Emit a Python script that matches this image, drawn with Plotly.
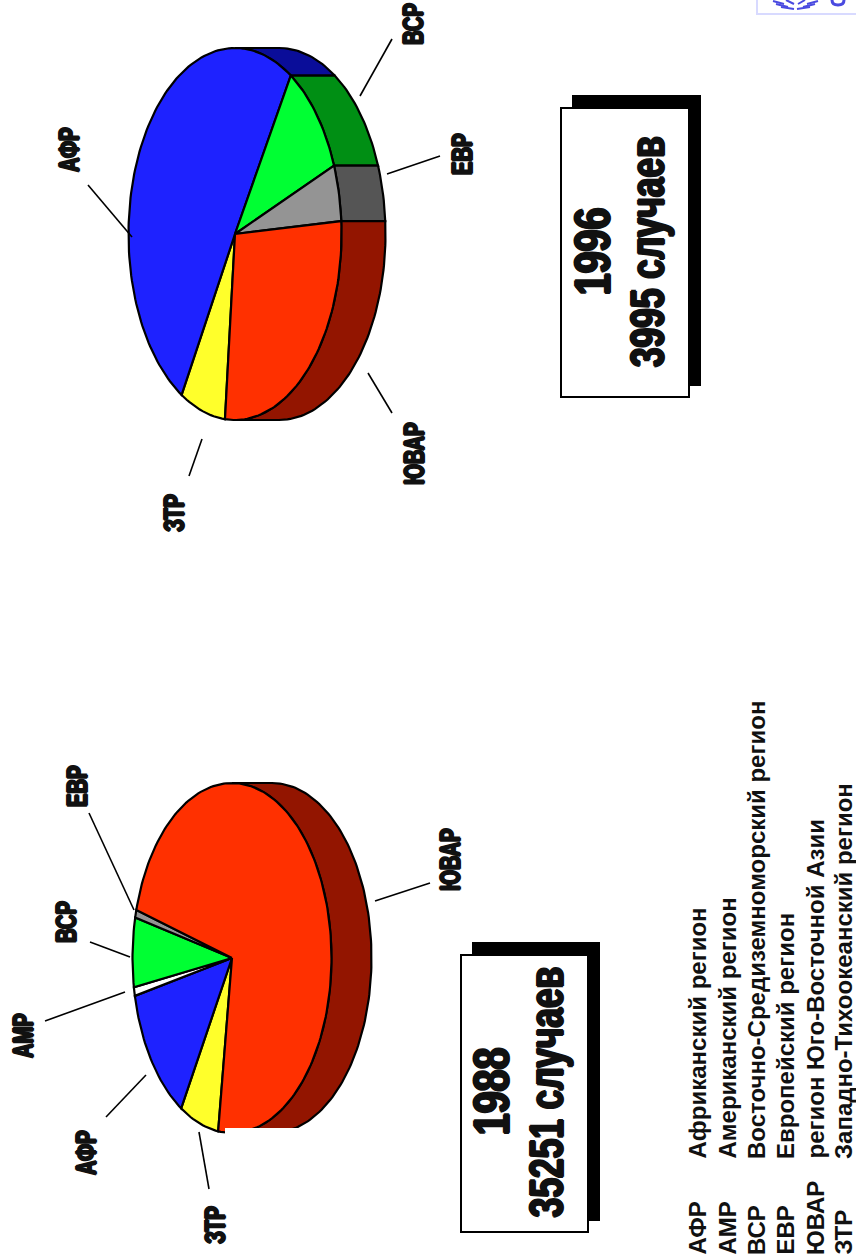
import json
import math
import plotly.graph_objects as go

# Regional case counts per year; clockwise from ЗТР in drawing order
regions = ["ЗТР", "АФР", "АМР", "ВСР", "ЕВР", "ЮВАР"]
cases_1988 = [2226, 4580, 280, 2255, 250, 25660]
cases_1996 = [274, 2014, 0, 409, 195, 1103]
legend_codes = ["АФР", "АМР", "ВСР", "ЕВР", "ЮВАР", "ЗТР"]
legend_names = [
    "Африканский регион",
    "Американский регион",
    "Восточно-Средиземноморский регион",
    "Европейский регион",
    "регион Юго-Восточной Азии",
    "Западно-Тихоокеанский регион",
]
top_colors = ["#FFFF2B", "#1E22FF", "#FFFFFF", "#00FF33", "#949494", "#FF3000"]
side_colors = ["#99991A", "#0A0D99", "#999999", "#008F14", "#555555", "#931500"]

W, H = 856, 1260
FONT = "Liberation Sans"
STROKE = "1.6px 0 0 #111, -1.6px 0 0 #111, 0 0.9px 0 #111, 0 -0.9px 0 #111"
# Horizontal squeeze per font size, giving the poster-style condensed lettering
SQUEEZE = {"30px": 0.67, "50px": 0.79, "49px": 0.72}


def ring(cx, cy, a, b, t0, t1, dx=0):
    steps = max(2, int(abs(t1 - t0) / 1.5))
    xs, ys = [], []
    for i in range(steps + 1):
        t = math.radians(t0 + (t1 - t0) * i / steps)
        xs.append(cx + dx + a * math.cos(t))
        ys.append(cy + b * math.sin(t))
    return xs, ys


def poly(fig, xs, ys, color):
    fig.add_trace(go.Scatter(
        x=xs, y=ys, mode="lines", fill="toself", fillcolor=color,
        line=dict(color="#000", width=2.2), hoverinfo="skip", showlegend=False,
    ))


def tilted_pie(fig, values, cx, cy, a, b, depth, start):
    total = sum(values)
    spans, t = [], start
    for v in values:
        span = 360 * v / total
        spans.append((t, t + span))
        t += span
    # Extruded wall first, only where it faces the viewer (-90..90 degrees)
    for (t0, t1), col in zip(spans, side_colors):
        for shift in (0, -360):
            lo, hi = max(t0 + shift, -90), min(t1 + shift, 90)
            if hi > lo:
                fx, fy = ring(cx, cy, a, b, lo, hi)
                bx, by = ring(cx, cy, a, b, hi, lo, depth)
                poly(fig, fx + bx + fx[:1], fy + by + fy[:1], col)
    # Top face wedges
    for (t0, t1), col, v in zip(spans, top_colors, values):
        if v:
            ax, ay = ring(cx, cy, a, b, t0, t1)
            poly(fig, [cx] + ax + [cx], [cy] + ay + [cy], col)


def label(fig, text, x, y, size, shadow=STROKE, xa="center", ya="middle"):
    fig.add_annotation(
        x=x, y=y, text=text, textangle=-90, showarrow=False, xanchor=xa, yanchor=ya,
        font=dict(family=FONT, size=size, color="#111", weight=700, shadow=shadow),
    )


def leader(fig, x0, y0, x1, y1, color="#000", width=1.6):
    fig.add_shape(type="line", x0=x0, y0=y0, x1=x1, y1=y1, line=dict(color=color, width=width))


def caption_box(fig, x0, y0, x1, y1, year, count, yx, cx_, yc):
    fig.add_shape(type="rect", x0=x0 + 11, y0=y0 - 13, x1=x1 + 12, y1=y1 - 11,
                  fillcolor="#000", line_width=0)
    fig.add_shape(type="rect", x0=x0, y0=y0, x1=x1, y1=y1,
                  fillcolor="#FFF", line=dict(color="#000", width=2))
    label(fig, year, yx, yc, 50)
    label(fig, count, cx_, yc, 49)


fig = go.Figure()
tilted_pie(fig, cases_1988, 232, 958, 99.5, 175, 40, 98)
tilted_pie(fig, cases_1996, 235, 234, 106.5, 186, 44, 95.4)

# The lower edge of the 1988 pie is cut off by a white strip
fig.add_shape(type="rect", x0=225, y0=1128, x1=380, y1=1140, fillcolor="#FFF", line_width=0)

for seg in [(360, 96, 392, 39), (88, 185, 132, 237), (387, 174, 440, 156),
            (368, 373, 392, 413), (189, 476, 202, 439),
            (89, 813, 134, 910), (90, 942, 130, 957), (45, 1021, 125, 992),
            (106, 1117, 146, 1075), (199, 1132, 209, 1189), (375, 901, 430, 883)]:
    leader(fig, *seg)

for text, x, y in [("ВСР", 412, 24), ("АФР", 68, 150), ("ЕВР", 461, 154),
                   ("ЮВАР", 413, 454), ("ЗТР", 173, 513),
                   ("ЕВР", 76, 786), ("ВСР", 65, 922), ("АМР", 22, 1036),
                   ("АФР", 85, 1153), ("ЗТР", 214, 1225), ("ЮВАР", 449, 860)]:
    label(fig, text, x, y, 30)

caption_box(fig, 561, 108, 689, 397, "1996", "3995 случаев", 593, 647, 252)
caption_box(fig, 461, 955, 588, 1232, "1988", "35251 случаев", 492, 546, 1092)

for code, name, x in zip(legend_codes, legend_names, [697, 727, 756, 785, 815, 843]):
    label(fig, code, x, 1257, 24, shadow="none", ya="bottom")
    label(fig, name, x, 1161, 24, shadow="none", ya="bottom")

# Emblem cut off by the top-right corner: pale frame, laurel sprigs and a letter stub
EMBLEM_BLUE = "#4A4AE0"
fig.add_shape(type="rect", x0=757, y0=-6, x1=870, y1=14, fillcolor="#FFF",
              line=dict(color="#D8DAFF", width=2))
for sx0, sy0, sx1, sy1 in [(773, 1, 784, 4), (776, 4, 788, 7), (781, 7, 794, 9),
                           (818, 1, 807, 4), (815, 4, 803, 7), (810, 7, 797, 9),
                           (786, 0, 794, 4), (805, 0, 798, 4)]:
    leader(fig, sx0, sy0, sx1, sy1, EMBLEM_BLUE, 2)
fig.add_shape(type="path", path="M 832 0 Q 832 5 838 5 Q 844 5 844 0",
              line=dict(color=EMBLEM_BLUE, width=3))

fig.update_xaxes(range=[0, W], visible=False, fixedrange=True)
fig.update_yaxes(range=[H, 0], visible=False, fixedrange=True)
fig.update_layout(width=W, height=H, margin=dict(l=0, r=0, t=0, b=0),
                  paper_bgcolor="#FFF", plot_bgcolor="#FFF", showlegend=False)

# Squeeze the heavy labels along their baseline once the text is laid out
squeeze_js = """
var squeeze = %s;
document.querySelectorAll('.annotation-text').forEach(function (el) {
  var k = squeeze[el.style.fontSize];
  if (k) {
    el.setAttribute('lengthAdjust', 'spacingAndGlyphs');
    el.setAttribute('textLength', el.getComputedTextLength() * k);
  }
});
""" % json.dumps(SQUEEZE)
fig.write_html("out.html", config={"displayModeBar": False}, post_script=squeeze_js)
